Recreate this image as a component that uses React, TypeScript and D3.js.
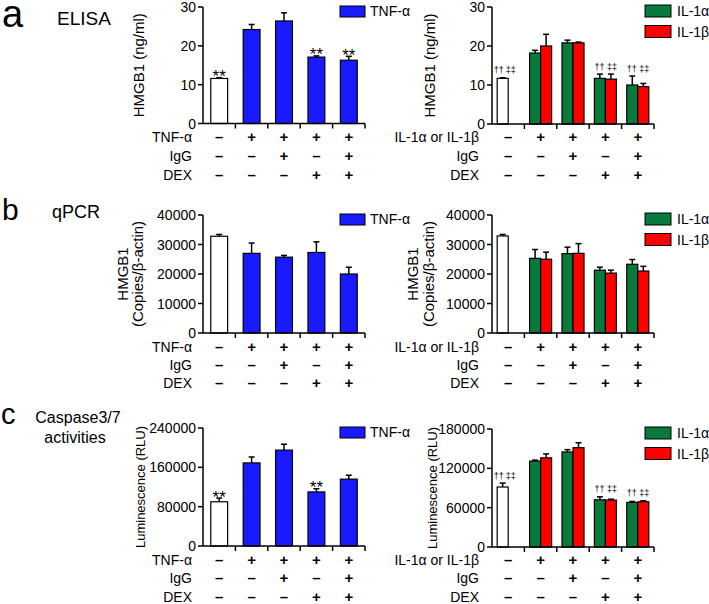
import React from "react";
import * as d3 from "d3";

const FONT = "'Liberation Sans', Arial, Helvetica, sans-serif";
const BLUE = "#1a1aff";
const GREEN = "#087a3c";
const RED = "#ff0000";

// conditions along the x axis
const groups = ["ctrl", "cyt", "cytIgG", "cytDEX", "cytIgGDEX"];
const cytRow = ["–", "+", "+", "+", "+"];
const iggRow = ["–", "–", "+", "–", "+"];
const dexRow = ["–", "–", "–", "+", "+"];
const ilGroups = ["cyt", "cytIgG", "cytDEX", "cytIgGDEX"];
const ilSeries = ["IL-1α", "IL-1β"];

// a: ELISA, HMGB1 (ng/ml)
const elisaTnf = [11.6, 24.2, 26.4, 17.1, 16.3];
const elisaTnfSem = [0.2, 1.3, 2.1, 0.3, 1.0];
const elisaCtrl = 11.7;
const elisaCtrlSem = 0.15;
const elisaIl1a = [18.2, 20.8, 11.7, 10.0];
const elisaIl1aSem = [0.7, 0.7, 1.1, 2.3];
const elisaIl1b = [20.0, 20.8, 11.5, 9.6];
const elisaIl1bSem = [3.0, 0.2, 1.3, 0.8];
const elisaTicks = [0, 10, 20, 30];

// b: qPCR, HMGB1 copies / beta-actin
const qpcrTnf = [32800, 27000, 25700, 27300, 20000];
const qpcrTnfSem = [600, 3500, 600, 3600, 2300];
const qpcrCtrl = 32900;
const qpcrCtrlSem = 500;
const qpcrIl1a = [25300, 26900, 21300, 23300];
const qpcrIl1aSem = [3000, 2200, 1000, 1600];
const qpcrIl1b = [25000, 27000, 20300, 21000];
const qpcrIl1bSem = [2400, 3300, 1000, 1600];
const qpcrTicks = [0, 10000, 20000, 30000, 40000];

// c: caspase 3/7, luminescence (RLU)
const caspTnf = [90000, 169000, 195000, 110000, 136000];
const caspTnfSem = [7500, 12000, 12000, 6500, 8000];
const caspCtrl = 91500;
const caspCtrlSem = 6000;
const caspIl1a = [131000, 145000, 72000, 68000];
const caspIl1aSem = [1500, 3500, 4500, 1500];
const caspIl1b = [136000, 151500, 71500, 69000];
const caspIl1bSem = [6000, 7500, 1500, 1500];
const caspTicksL = [0, 80000, 160000, 240000];
const caspTicksR = [0, 60000, 120000, 180000];

// significance marks (group index)
const elisaStars = [0, 3, 4];
const caspStars = [0, 3];
const elisaDaggers = [0, 3, 4];
const caspDaggers = [0, 3, 4];

const Axes = ({ x, y, ticks, yLabel, labelOff, labelSize }) => {
  const [x0, x1] = x.range();
  const [y0, y1] = y.range();
  const cy = (y0 + y1) / 2;
  return (
    <g>
      <line x1={x0} x2={x0} y1={y0} y2={y1} stroke="#000" strokeWidth={1.5} />
      <line x1={x0} x2={x1} y1={y0} y2={y0} stroke="#000" strokeWidth={1.5} />
      {ticks.map((t) => (
        <g key={t}>
          <line x1={x0 - 5} x2={x0} y1={y(t)} y2={y(t)} stroke="#000" strokeWidth={1.5} />
          <text x={x0 - 7} y={y(t) + 5} textAnchor="end" fontSize={14}>{t}</text>
        </g>
      ))}
      {x.domain().map((g) => (
        <line key={g} x1={x(g) + x.bandwidth()} x2={x(g) + x.bandwidth()} y1={y0} y2={y0 + 5} stroke="#000" strokeWidth={1.5} />
      ))}
      {yLabel.map((l, i) => (
        <text key={l} transform={`translate(${x0 - labelOff[i]},${cy}) rotate(-90)`} textAnchor="middle" fontSize={labelSize}>{l}</text>
      ))}
    </g>
  );
};

const Rows = ({ x, ys, labels, labelX }) => {
  const rows = [cytRow, iggRow, dexRow];
  return (
    <g>
      {rows.map((r, i) => (
        <g key={i}>
          <text x={labelX} y={ys[i]} textAnchor="end" fontSize={14}>{labels[i]}</text>
          {r.map((s, j) => (
            <text key={j} x={x(groups[j]) + x.bandwidth() / 2} y={ys[i]} textAnchor="middle" fontSize={15} fontWeight="bold">{s}</text>
          ))}
        </g>
      ))}
    </g>
  );
};

const ErrBar = ({ cx, top, err }) => (
  <g stroke="#000" strokeWidth={1.5}>
    <line x1={cx} x2={cx} y1={top} y2={err} />
    <line x1={cx - 3} x2={cx + 3} y1={err} y2={err} />
  </g>
);

const TnfPanel = ({ x0, x1, y0, y1, ticks, values, sem, stars, yLabel, labelOff, labelSize, rowYs }) => {
  const x = d3.scaleBand().domain(groups).range([x0, x1]).padding(0);
  const y = d3.scaleLinear().domain([0, ticks[ticks.length - 1]]).range([y0, y1]);
  const bw = x.bandwidth() * 0.52;
  return (
    <g>
      {values.map((v, i) => {
        const cx = x(groups[i]) + x.bandwidth() / 2;
        return (
          <g key={i}>
            <rect x={cx - bw / 2} y={y(v)} width={bw} height={y0 - y(v)} fill={i === 0 ? "#fff" : BLUE} stroke="#000" strokeWidth={1.2} />
            <ErrBar cx={cx} top={y(v)} err={y(v + sem[i])} />
            {stars.includes(i) && (
              <text x={cx} y={y(v + sem[i]) + 4.5} textAnchor="middle" fontSize={17}>**</text>
            )}
          </g>
        );
      })}
      <Axes x={x} y={y} ticks={ticks} yLabel={yLabel} labelOff={labelOff} labelSize={labelSize} />
      <Rows x={x} ys={rowYs} labels={["TNF-α", "IgG", "DEX"]} labelX={x0 - 11} />
      <rect x={340} y={y1 - 1} width={25} height={11} fill={BLUE} stroke="#000" strokeWidth={1} />
      <text x={370} y={y1 + 9} fontSize={14}>TNF-α</text>
    </g>
  );
};

const IlPanel = ({ x0, x1, y0, y1, ticks, ctrl, ctrlSem, a, aSem, b, bSem, daggers, yLabel, labelOff, labelSize, rowYs }) => {
  const x = d3.scaleBand().domain(groups).range([x0, x1]).padding(0);
  const y = d3.scaleLinear().domain([0, ticks[ticks.length - 1]]).range([y0, y1]);
  const inner = d3.scaleBand().domain(ilSeries).range([0, x.bandwidth()]).paddingInner(0).paddingOuter(0.47);
  const w = inner.bandwidth();
  const ctrlCx = x(groups[0]) + inner("IL-1α") + w / 2;
  return (
    <g>
      <rect x={ctrlCx - w / 2} y={y(ctrl)} width={w} height={y0 - y(ctrl)} fill="#fff" stroke="#000" strokeWidth={1.2} />
      <ErrBar cx={ctrlCx} top={y(ctrl)} err={y(ctrl + ctrlSem)} />
      {daggers.includes(0) && (
        <g fontSize={9}>
          <text x={ctrlCx - 4} y={y(ctrl + ctrlSem) - 4.5} textAnchor="middle">††</text>
          <text x={ctrlCx + 8} y={y(ctrl + ctrlSem) - 4.5} textAnchor="middle">‡‡</text>
        </g>
      )}
      {ilGroups.map((g, i) => {
        const series = [
          { k: "IL-1α", v: a[i], s: aSem[i], c: GREEN, mark: "††", dx: -0.5 },
          { k: "IL-1β", v: b[i], s: bSem[i], c: RED, mark: "‡‡", dx: 1 },
        ];
        const top = Math.min(y(a[i] + aSem[i]), y(b[i] + bSem[i]));
        return (
          <g key={g}>
            {series.map((d) => {
              const cx = x(g) + inner(d.k) + w / 2;
              return (
                <g key={d.k}>
                  <rect x={cx - w / 2} y={y(d.v)} width={w} height={y0 - y(d.v)} fill={d.c} stroke="#000" strokeWidth={1.2} />
                  <ErrBar cx={cx} top={y(d.v)} err={y(d.v + d.s)} />
                  {daggers.includes(i + 1) && (
                    <text x={cx + d.dx} y={top - 4.5} textAnchor="middle" fontSize={9}>{d.mark}</text>
                  )}
                </g>
              );
            })}
          </g>
        );
      })}
      <Axes x={x} y={y} ticks={ticks} yLabel={yLabel} labelOff={labelOff} labelSize={labelSize} />
      <Rows x={x} ys={rowYs} labels={["IL-1α or IL-1β", "IgG", "DEX"]} labelX={x0 - 13} />
      {ilSeries.map((s, i) => (
        <g key={s}>
          <rect x={645} y={y1 - 2 + i * 20.5} width={26} height={12} fill={i === 0 ? GREEN : RED} stroke="#000" strokeWidth={1} />
          <text x={677} y={y1 + 9 + i * 20.5} fontSize={14}>{s}</text>
        </g>
      ))}
    </g>
  );
};

const App = () => {
  return (
    <svg width={709} height={604} style={{ position: "absolute", left: 0, top: 0, background: "#fff" }} fontFamily={FONT}>
      <rect width={709} height={604} fill="#fff" />
      {/* panel labels */}
      <text x={2} y={27} fontSize={38}>a</text>
      <text x={57} y={25} fontSize={19}>ELISA</text>
      <text x={2} y={220} fontSize={30}>b</text>
      <text x={52} y={218} fontSize={18}>qPCR</text>
      <text x={1} y={424} fontSize={29}>c</text>
      <text x={78} y={423} fontSize={16} textAnchor="middle">Caspase3/7</text>
      <text x={75} y={443} fontSize={16} textAnchor="middle">activities</text>

      <TnfPanel x0={203} x1={365} y0={123.5} y1={7} ticks={elisaTicks} values={elisaTnf} sem={elisaTnfSem}
        stars={elisaStars} yLabel={["HMGB1 (ng/ml)"]} labelOff={[59]} labelSize={15} rowYs={[142, 161, 180]} />
      <IlPanel x0={492} x1={654} y0={124} y1={7} ticks={elisaTicks} ctrl={elisaCtrl} ctrlSem={elisaCtrlSem}
        a={elisaIl1a} aSem={elisaIl1aSem} b={elisaIl1b} bSem={elisaIl1bSem} daggers={elisaDaggers}
        yLabel={["HMGB1 (ng/ml)"]} labelOff={[57]} labelSize={15} rowYs={[142, 161, 180]} />

      <TnfPanel x0={203} x1={365} y0={333} y1={215} ticks={qpcrTicks} values={qpcrTnf} sem={qpcrTnfSem}
        stars={[]} yLabel={["HMGB1", "(Copies/β-actin)"]} labelOff={[75, 60]} labelSize={15} rowYs={[352, 370, 388]} />
      <IlPanel x0={492} x1={654} y0={333} y1={215} ticks={qpcrTicks} ctrl={qpcrCtrl} ctrlSem={qpcrCtrlSem}
        a={qpcrIl1a} aSem={qpcrIl1aSem} b={qpcrIl1b} bSem={qpcrIl1bSem} daggers={[]}
        yLabel={["HMGB1", "(Copies/β-actin)"]} labelOff={[74, 58]} labelSize={15} rowYs={[352, 370, 388]} />

      <TnfPanel x0={203} x1={365} y0={546} y1={428} ticks={caspTicksL} values={caspTnf} sem={caspTnfSem}
        stars={caspStars} yLabel={["Luminescence (RLU)"]} labelOff={[58]} labelSize={13} rowYs={[565, 583, 602]} />
      <IlPanel x0={492} x1={654} y0={547} y1={429} ticks={caspTicksR} ctrl={caspCtrl} ctrlSem={caspCtrlSem}
        a={caspIl1a} aSem={caspIl1aSem} b={caspIl1b} bSem={caspIl1bSem} daggers={caspDaggers}
        yLabel={["Luminescence (RLU)"]} labelOff={[55]} labelSize={13} rowYs={[565, 583, 602]} />
    </svg>
  );
};

export default App;
